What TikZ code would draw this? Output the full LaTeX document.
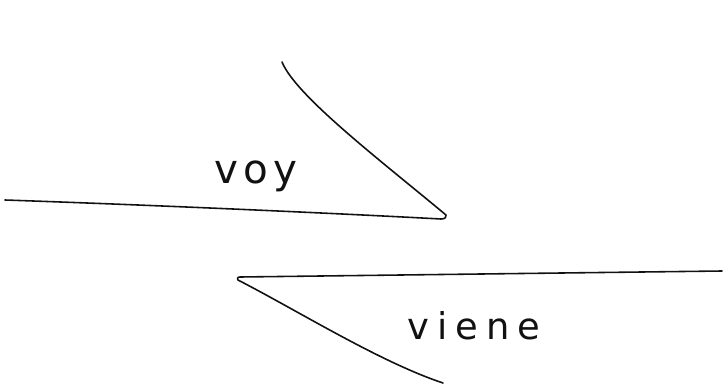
\documentclass[tikz,border=0pt]{standalone}
\usepackage{fontspec}
\usepackage{tikz}
\usetikzlibrary{positioning}
\newfontfamily\handvoy[LetterSpace=12]{DejaVu Sans}
\newfontfamily\handviene[LetterSpace=22]{DejaVu Sans}
\definecolor{inkblack}{HTML}{111111}
\tikzset{
  stroke/.style={draw=inkblack,line width=0.9pt,line cap=round,line join=round},
  label/.style={inner sep=0pt,text=inkblack}
}
\begin{document}
\begin{tikzpicture}[x=0.02cm,y=-0.02cm]
  % page frame (pixel units, y downwards)
  \useasboundingbox (0,0) rectangle (728,389);
  % Upper harpoon: voy
  \coordinate (voystart) at (5,200);
  \coordinate (voytip) at (441,219);
  \coordinate (voyhook) at (446,215);
  \coordinate (voyend) at (282,62);
  \draw[stroke] (voystart) .. controls (150,205) and (330,213) .. (voytip)
    .. controls (445,219) and (447,217) .. (voyhook)
    .. controls (380,160) and (296,96) .. (voyend);
  \node[label,font=\handvoy\fontsize{23}{26}\selectfont] (voy) at (256,176) {voy};
  % Lower harpoon: viene
  \coordinate (vienestart) at (722,271);
  \coordinate (vienetip) at (240,277);
  \coordinate (vienehook) at (238,280);
  \coordinate (vieneend) at (443,383);
  \draw[stroke] (vienestart) -- (vienetip)
    .. controls (237,277) and (237,279) .. (vienehook)
    .. controls (300,312) and (380,362) .. (vieneend);
  \node[label,font=\handviene\fontsize{21}{24}\selectfont] (viene) at (474,326) {viene};
\end{tikzpicture}
\end{document}
